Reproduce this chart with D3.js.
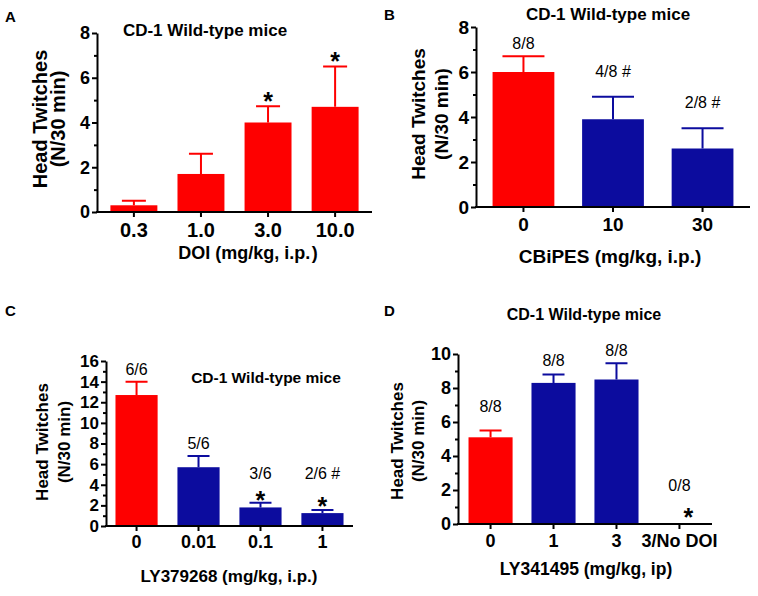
<!DOCTYPE html>
<html>
<head>
<meta charset="utf-8">
<script src="https://cdn.jsdelivr.net/npm/d3@7"></script>
<style>
  body { margin: 0; background: #fff; }
  svg { display: block; }
  text { font-family: "Liberation Sans", Arial, sans-serif; }
</style>
</head>
<body>
<svg id="fig" width="758" height="596"></svg>
<script>
// panel A: DOI dose response
var doiDoses = ["0.3", "1.0", "3.0", "10.0"],
    doiMeans = [0.3, 1.7, 4.0, 4.7],
    doiSem = [0.2, 0.9, 0.73, 1.8],
    doiGroups = ["doi", "doi", "doi", "doi"],
    doiNotes = [{ dose: "3.0", text: "*", at: 5.2 }, { dose: "10.0", text: "*", at: 7.0 }];

// panel B: CBiPES
var cbiDoses = ["0", "10", "30"],
    cbiMeans = [6.0, 3.9, 2.6],
    cbiSem = [0.7, 1.0, 0.9],
    cbiGroups = ["doi", "drug", "drug"],
    cbiNotes = [{ dose: "0", text: "8/8", at: 7.3 }, { dose: "10", text: "4/8 #", at: 6.05 },
                { dose: "30", text: "2/8 #", at: 4.65 }];

// panel C: LY379268
var ly379Doses = ["0", "0.01", "0.1", "1"],
    ly379Means = [12.7, 5.7, 1.8, 1.25],
    ly379Sem = [1.3, 1.1, 0.45, 0.3],
    ly379Groups = ["doi", "drug", "drug", "drug"],
    ly379Notes = [{ dose: "0", text: "6/6", at: 15.2 }, { dose: "0.01", text: "5/6", at: 8.0 },
                  { dose: "0.1", text: "3/6", at: 5.1 }, { dose: "0.1", text: "*", at: 3.1 },
                  { dose: "1", text: "2/6 #", at: 5.1 }, { dose: "1", text: "*", at: 2.5 }];

// panel D: LY341495
var ly341Doses = ["0", "1", "3", "3/No DOI"],
    ly341Means = [5.1, 8.3, 8.5, 0],
    ly341Sem = [0.4, 0.5, 0.95, 0],
    ly341Groups = ["doi", "drug", "drug", "drug"],
    ly341Notes = [{ dose: "0", text: "8/8", at: 6.9 }, { dose: "1", text: "8/8", at: 9.65 },
                  { dose: "3", text: "8/8", at: 10.25 }, { dose: "3/No DOI", text: "0/8", at: 2.3 },
                  { dose: "3/No DOI", text: "*", at: 0.75, dx: 9 }];

var groupColor = { doi: "#fe0000", drug: "#0c0c9e" };
var titleText = "CD-1 Wild-type mice";

var panels = [
  { letter: "A", lx: 5, ly: 22, doses: doiDoses, means: doiMeans, sem: doiSem, groups: doiGroups, notes: doiNotes,
    xLabel: "DOI (mg/kg, i.p.\u200A)", yMax: 8, x0: 97, x1: 372, yTop: 33, yBottom: 212,
    padIn: 0.3, padOut: 0.2, cap: 12, yFont: 18, xTickFont: 20, xFont: 18, xTickBase: 25, xLabelBase: 47, xLabelX: 248,
    tx: 205, ty: 36, tFont: 17, ylx: [-57, -39], ylc: 119, ylFont: 20 },
  { letter: "B", lx: 384, ly: 20, doses: cbiDoses, means: cbiMeans, sem: cbiSem, groups: cbiGroups, notes: cbiNotes,
    xLabel: "CBiPES (mg/kg, i.p.)", yMax: 8, x0: 476, x1: 750, yTop: 27, yBottom: 207,
    padIn: 0.31, padOut: 0.185, cap: 21, yFont: 19, xTickFont: 19, xFont: 19, xTickBase: 24, xLabelBase: 56, xLabelX: 610,
    tx: 608, ty: 20, tFont: 17, ylx: [-58, -35], ylc: 114, ylFont: 19 },
  { letter: "C", lx: 5, ly: 316, doses: ly379Doses, means: ly379Means, sem: ly379Sem, groups: ly379Groups, notes: ly379Notes,
    xLabel: "LY379268 (mg/kg, i.p.)", yMax: 16, x0: 106, x1: 353, yTop: 361, yBottom: 526,
    padIn: 0.32, padOut: 0.153, cap: 11, yFont: 17, xTickFont: 18, xFont: 17, xTickBase: 22, xLabelBase: 56, xLabelX: 229,
    tx: 266, ty: 383, tFont: 15.5, ylx: [-64, -42], ylc: 442, ylFont: 17 },
  { letter: "D", lx: 384, ly: 316, doses: ly341Doses, means: ly341Means, sem: ly341Sem, groups: ly341Groups, notes: ly341Notes,
    xLabel: "LY341495 (mg/kg, ip)", yMax: 10, x0: 458, x1: 712, yTop: 354, yBottom: 524,
    padIn: 0.3, padOut: 0.167, cap: 11, yFont: 18, xTickFont: 18, xFont: 17.5, xTickBase: 23, xLabelBase: 51, xLabelX: 586,
    tx: 584, ty: 320, tFont: 16, ylx: [-61, -40], ylc: 441, ylFont: 17 }
];

var svg = d3.select("#fig");
svg.append("rect").attr("width", 758).attr("height", 596).attr("fill", "#fff");

var drawPanel = function (p) {
  var g = svg.append("g");

  var x = d3.scaleBand().domain(p.doses).range([p.x0, p.x1])
    .paddingInner(p.padIn).paddingOuter(p.padOut);
  var y = d3.scaleLinear().domain([0, p.yMax]).range([p.yBottom, p.yTop]);

  var rows = p.doses.map(function (d, i) {
    return { dose: d, mean: p.means[i], sem: p.sem[i], group: p.groups[i] };
  });

  // bars
  g.selectAll("rect.bar").data(rows.filter(function (r) { return r.mean > 0; }))
    .join("rect").attr("class", "bar")
    .attr("x", function (d) { return x(d.dose); })
    .attr("width", x.bandwidth())
    .attr("y", function (d) { return y(d.mean); })
    .attr("height", function (d) { return y(0) - y(d.mean); })
    .attr("fill", function (d) { return groupColor[d.group]; });

  // error bars (upper only)
  g.selectAll("path.err").data(rows.filter(function (r) { return r.sem > 0; }))
    .join("path").attr("class", "err")
    .attr("d", function (d) {
      var cx = x(d.dose) + x.bandwidth() / 2, yt = y(d.mean + d.sem), yb = y(d.mean);
      return "M" + cx + "," + yb + "V" + yt + "M" + (cx - p.cap) + "," + yt + "H" + (cx + p.cap);
    })
    .attr("fill", "none")
    .attr("stroke", function (d) { return groupColor[d.group]; })
    .attr("stroke-width", 2);

  // y axis: majors every 2, minors on odd values
  var majors = d3.range(0, p.yMax + 1, 2),
      minors = d3.range(1, p.yMax, 2);
  var yMinor = g.append("g").attr("transform", "translate(" + p.x0 + ",0)")
    .call(d3.axisLeft(y).tickValues(minors).tickSize(3).tickSizeOuter(0).tickFormat(""));
  yMinor.select(".domain").remove();
  var yAx = g.append("g").attr("transform", "translate(" + p.x0 + ",0)")
    .call(d3.axisLeft(y).tickValues(majors).tickSize(5).tickSizeOuter(0).tickPadding(2));
  yAx.selectAll("text").style("font-size", p.yFont + "px").style("font-weight", "bold")
    .attr("fill", "#000");

  // x axis
  var xAx = g.append("g").attr("transform", "translate(0," + p.yBottom + ")")
    .call(d3.axisBottom(x).tickSize(5).tickSizeOuter(0));
  xAx.selectAll("text").style("font-size", p.xTickFont + "px").style("font-weight", "bold")
    .attr("fill", "#000").attr("y", p.xTickBase).attr("dy", null);

  [yMinor, yAx, xAx].forEach(function (a) {
    a.attr("font-family", null);
    a.selectAll("path, line").attr("stroke", "#000").attr("stroke-width", 2);
  });
  xAx.select(".domain").attr("d", "M" + (p.x0 - 1) + ",0H" + p.x1);

  // annotations: n/N responders, # and *
  p.notes.forEach(function (n) {
    var cx = x(n.dose) + x.bandwidth() / 2 + (n.dx || 0);
    var star = n.text === "*";
    var fs = star ? 25 : 16;
    g.append("text")
      .attr("x", cx)
      .attr("y", y(n.at) + (star ? 0.58 : 0.36) * fs)
      .attr("text-anchor", "middle")
      .style("font-size", fs + "px")
      .style("font-weight", star ? "bold" : "normal")
      .text(n.text);
  });

  // title
  g.append("text").attr("x", p.tx).attr("y", p.ty).attr("text-anchor", "middle")
    .style("font-size", p.tFont + "px").style("font-weight", "bold").text(titleText);

  // x label
  g.append("text").attr("x", p.xLabelX).attr("y", p.yBottom + p.xLabelBase)
    .attr("text-anchor", "middle").style("font-size", p.xFont + "px").style("font-weight", "bold")
    .text(p.xLabel);

  // y label, two lines
  ["Head Twitches", "(N/30 min)"].forEach(function (t, i) {
    var cxl = p.x0 + p.ylx[i] + 0.36 * p.ylFont;
    g.append("text")
      .attr("transform", "translate(" + cxl + "," + p.ylc + ") rotate(-90)")
      .attr("text-anchor", "middle")
      .style("font-size", p.ylFont + "px").style("font-weight", "bold")
      .text(t);
  });

  // panel letter
  g.append("text").attr("x", p.lx).attr("y", p.ly)
    .style("font-size", "15px").style("font-weight", "bold").text(p.letter);
};

panels.forEach(drawPanel);
</script>
</body>
</html>
